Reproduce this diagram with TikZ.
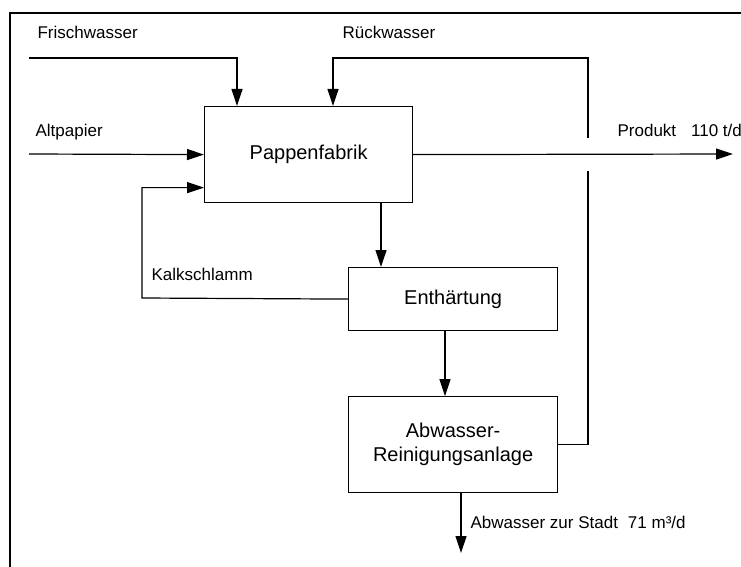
\documentclass[tikz,border=0pt]{standalone}
\usepackage{fontspec}
\setmainfont{Liberation Sans}
\usetikzlibrary{positioning,arrows.meta}

\begin{document}
\begin{tikzpicture}[x=1pt, y=-1pt, line width=1.2pt,
    flow/.style={-{Triangle[length=17pt,width=11pt]}},
    box/.style={draw, minimum width=208pt, inner sep=0pt, align=center, font=\fontsize{20}{24}\selectfont},
    lbl/.style={inner sep=0pt, anchor=base west, font=\fontsize{17}{20}\selectfont}]
    \useasboundingbox (0,0) rectangle (741,567);
    \draw (10,567) |- (741,13);

    \node[box, minimum height=96pt, anchor=north west] (fabrik) at (204,106) {Pappenfabrik};
    \node[box, minimum width=209pt, minimum height=63pt, anchor=north west] (enth) at (348,267) {Enthärtung};
    \node[box, minimum width=209pt, minimum height=96pt, below=65pt of enth] (ara) {Abwasser-\\Reinigungsanlage};

    \node[lbl] (frisch) at (37,39) {Frischwasser};
    \node[lbl] (rueck) at (342,39) {Rückwasser};
    \node[lbl] (alt) at (35,136) {Altpapier};
    \node[lbl] (prod) at (617,136) {Produkt\hspace{15pt}110 t/d};
    \node[lbl] (kalk) at (151,280) {Kalkschlamm};
    \node[lbl] (stadt) at (470,528) {Abwasser zur Stadt\hspace{10pt}71 m³/d};

    \coordinate (fwin) at (29,58);
    \coordinate (apin) at (29,154);
    \coordinate (prout) at (733,154);
    \coordinate (rk) at (588,58);
    \coordinate (gaplo) at (588,171);
    \coordinate (gaphi) at (588,138);
    \coordinate (ks) at (142,298);
    \coordinate (stadtout) at (461,553);

    \draw[flow] (fwin) -| ([xshift=33pt]fabrik.north west);
    \draw[flow] (apin) -- (fabrik.west);
    \draw[flow] (fabrik.east) -- (prout);
    \draw (ara.east) -| (gaplo);
    \draw[flow] (gaphi) -- (rk) -| ([xshift=129pt]fabrik.north west);
    \draw[flow] ([xshift=177pt]fabrik.south west) -- ([xshift=33pt]enth.north west);
    \draw[flow] (enth.west) -- (ks) |- ([yshift=-33pt]fabrik.west);
    \draw[flow] ([xshift=97pt]enth.south west) -- ([xshift=97pt]ara.north west);
    \draw[flow] ([xshift=113pt]ara.south west) -- (stadtout);
\end{tikzpicture}
\end{document}
